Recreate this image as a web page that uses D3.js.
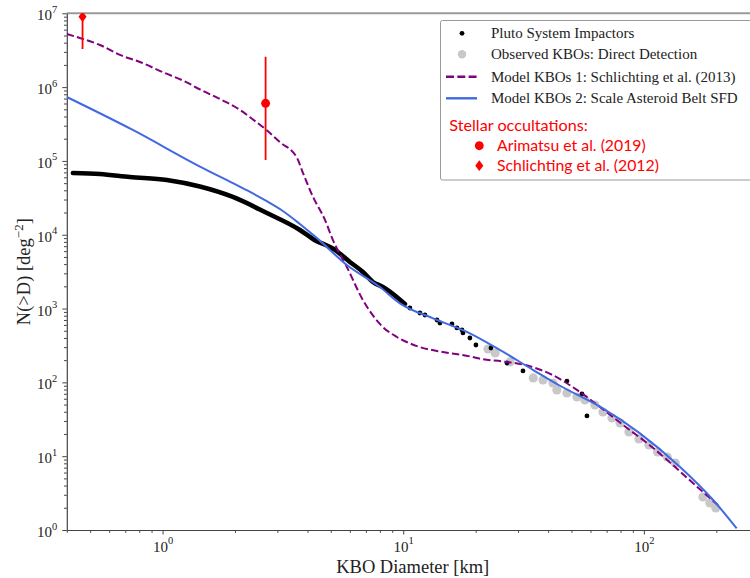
<!DOCTYPE html>
<html>
<head>
<meta charset="utf-8">
<script src="https://cdn.jsdelivr.net/npm/d3@7"></script>
<style>
  body { margin: 0; background: #fff; }
  svg { display: block; }
</style>
</head>
<body>
<div id="chart"></div>
<script>
// ---- data: [diameter km, N(>D) deg^-2] ----
const impactorCurve = [
  [0.424, 68700], [0.549, 66600], [0.731, 60600], [1.042, 55200], [1.429, 45000],
  [1.96, 32500], [2.714, 19700], [3.722, 11600], [4.215, 8770], [5.202, 6220],
  [6.003, 4280], [6.8, 3130], [7.483, 2290], [8.233, 1960], [9.506, 1390], [10.16, 1150]
];
const impactorDots = [
  [10.66, 1018], [11.73, 871], [12.31, 818], [13.81, 700], [14.21, 637], [15.94, 618],
  [16.72, 546], [17.54, 513], [17.71, 467], [18.93, 399], [20.05, 321], [23.15, 292],
  [26.98, 183], [31.45, 143], [47.9, 104], [55.3, 69.6], [58.0, 35.1]
];
const observedKBOs = [
  [22.5, 283], [24.1, 250], [27.8, 189], [34.7, 115], [38.1, 108], [41.9, 98.1],
  [43.5, 78.9], [47.9, 71.8], [52.7, 63.4], [56.9, 57.7], [62.6, 49.4], [67.6, 39.7],
  [73.7, 32.9], [79.6, 28.2], [86.7, 21.3], [95.4, 17.1], [105, 14.2], [114, 11.4],
  [125, 9.75], [135, 8.09], [176, 2.8], [188, 2.32], [199, 1.99]
];
const modelSchlichting = [
  [0.40, 5.25e6], [0.453, 4.63e6], [0.549, 3.72e6], [0.665, 2.73e6], [0.805, 2.19e6],
  [1.0, 1.6e6], [1.26, 1.16e6], [1.43, 9.3e5], [1.73, 6.9e5], [2.10, 4.9e5],
  [2.31, 3.9e5], [2.71, 2.6e5], [3.07, 1.8e5], [3.62, 1.1e5], [3.83, 6.9e4],
  [4.22, 3.25e4], [4.73, 1.59e4], [5.10, 8500], [5.83, 3660], [6.80, 1306],
  [8.23, 562], [9.42, 412], [11.4, 310], [14.6, 258], [18.9, 225], [21.5, 205],
  [26.0, 192], [33.6, 165], [41.9, 125], [52.7, 79], [65.7, 46.5], [81.9, 26.5],
  [103, 15.1], [125, 8.9], [151, 5.1], [203, 2.18]
];
const modelAsteroid = [
  [0.40, 7.35e5], [0.752, 2.63e5], [1.43, 8.4e4], [1.96, 5.0e4], [2.31, 3.8e4],
  [2.71, 2.85e4], [3.16, 2.1e4], [3.72, 1.4e4], [4.38, 9000], [5.83, 3890],
  [8.0, 1960], [9.69, 1178], [13.3, 738], [18.3, 486], [25.2, 275], [34.7, 147],
  [44.8, 90], [65.7, 46.9], [96.3, 20.4], [141, 7.2], [194, 2.55], [243, 1.05]
];
// stellar occultations: [D, N, lower, upper]
const arimatsu2019 = [2.68, 6.04e5, 1.03e5, 2.58e6];
const schlichting2012 = [0.465, 9.0e6, 3.29e6, 1.3e7];

const xMajorTicks = [1, 10, 100];
const yMajorTicks = [1, 10, 100, 1e3, 1e4, 1e5, 1e6, 1e7];
const legendSeries = [
  "Pluto System Impactors",
  "Observed KBOs: Direct Detection",
  "Model KBOs 1: Schlichting et al. (2013)",
  "Model KBOs 2: Scale Asteroid Belt SFD"
];
const legendTitle = "Stellar occultations:";
const legendOccultations = ["Arimatsu et al. (2019)", "Schlichting et al. (2012)"];

// ---- layout ----
const width = 750, height = 578;
const plot = { left: 66.8, right: 758.7, top: 13.3, bottom: 530 };
const serif = "'Liberation Serif', 'DejaVu Serif', serif";
const sans = "Lato, 'Open Sans', sans-serif";

const svg = d3.select("#chart").append("svg")
    .attr("width", width)
    .attr("height", height);

const x = d3.scaleLog().domain([0.4, 300]).range([plot.left, plot.right]);
const y = d3.scaleLog().domain([1, 1e7]).range([plot.bottom, plot.top]);

svg.append("defs").append("clipPath")
    .attr("id", "clip")
  .append("rect")
    .attr("x", plot.left)
    .attr("y", plot.top)
    .attr("width", plot.right - plot.left)
    .attr("height", plot.bottom - plot.top);

const isMajor = v => Math.abs(Math.log10(v) - Math.round(Math.log10(v))) < 1e-9;
const xMinor = x.ticks().filter(v => !isMajor(v));
const yMinor = y.ticks().filter(v => !isMajor(v));

const axisColor = "#444";

// top spine (light gray)
svg.append("line")
    .attr("x1", plot.left).attr("x2", plot.right)
    .attr("y1", plot.top).attr("y2", plot.top)
    .attr("stroke", "#9a9a9a")
    .attr("stroke-width", 2);

// minor ticks
svg.append("g")
    .attr("transform", `translate(0,${plot.bottom})`)
    .call(d3.axisBottom(x).tickValues(xMinor).tickSize(2.8).tickSizeOuter(0).tickFormat(""))
    .call(g => g.select(".domain").remove())
    .call(g => g.selectAll("line").attr("stroke", axisColor));

svg.append("g")
    .attr("transform", `translate(${plot.left},0)`)
    .call(d3.axisLeft(y).tickValues(yMinor).tickSize(2.8).tickSizeOuter(0).tickFormat(""))
    .call(g => g.select(".domain").remove())
    .call(g => g.selectAll("line").attr("stroke", axisColor));

// major axes with 10^n labels
function powerLabel(sel, supDy) {
  sel.each(function(d) {
    const t = d3.select(this).text(null);
    t.append("tspan").text("10");
    t.append("tspan").attr("dy", supDy).attr("font-size", 10.5).text(Math.round(Math.log10(d)));
  });
}

svg.append("g")
    .attr("transform", `translate(0,${plot.bottom})`)
    .call(d3.axisBottom(x).tickValues(xMajorTicks).tickSize(4.5).tickSizeOuter(0))
    .attr("font-family", serif)
    .call(g => g.select(".domain").attr("stroke", axisColor).attr("stroke-width", 1.2))
    .call(g => g.selectAll("line").attr("stroke", axisColor))
    .call(g => g.selectAll("text")
        .attr("font-family", serif)
        .attr("font-size", 15)
        .attr("fill", "#222")
        .attr("y", 21.7)
        .attr("dy", 0)
        .call(powerLabel, -8));

svg.append("g")
    .attr("transform", `translate(${plot.left},0)`)
    .call(d3.axisLeft(y).tickValues(yMajorTicks).tickSize(4.5).tickSizeOuter(0).tickPadding(5))
    .attr("font-family", serif)
    .call(g => g.select(".domain").attr("stroke", axisColor).attr("stroke-width", 1.2))
    .call(g => g.selectAll("line").attr("stroke", axisColor))
    .call(g => g.selectAll("text")
        .attr("font-family", serif)
        .attr("font-size", 15)
        .attr("fill", "#222")
        .attr("dy", 6.5)
        .call(powerLabel, -7.5));

// axis titles
svg.append("text")
    .attr("x", (plot.left + plot.right) / 2)
    .attr("y", 573)
    .attr("text-anchor", "middle")
    .attr("font-family", serif)
    .attr("font-size", 18.5)
    .attr("fill", "#222")
    .text("KBO Diameter [km]");

const yTitle = svg.append("text")
    .attr("transform", `translate(29.5,${(plot.top + plot.bottom) / 2}) rotate(-90)`)
    .attr("text-anchor", "middle")
    .attr("font-family", serif)
    .attr("font-size", 18.5)
    .attr("fill", "#222");
yTitle.append("tspan").text("N(>D) [deg");
yTitle.append("tspan").attr("dy", -7).attr("font-size", 13).text("\u22122");
yTitle.append("tspan").attr("dy", 7).text("]");

// ---- data marks ----
const g = svg.append("g").attr("clip-path", "url(#clip)");
const smooth = d3.line().x(d => x(d[0])).y(d => y(d[1])).curve(d3.curveMonotoneX);

g.selectAll("circle.kbo")
  .data(observedKBOs)
  .join("circle")
    .attr("class", "kbo")
    .attr("cx", d => x(d[0]))
    .attr("cy", d => y(d[1]))
    .attr("r", 4.6)
    .attr("fill", "#c8c8c8");

g.append("path")
    .datum(impactorCurve)
    .attr("d", smooth)
    .attr("fill", "none")
    .attr("stroke", "#000")
    .attr("stroke-width", 4.6)
    .attr("stroke-linecap", "round")
    .attr("stroke-linejoin", "round");

g.selectAll("circle.imp")
  .data(impactorDots)
  .join("circle")
    .attr("class", "imp")
    .attr("cx", d => x(d[0]))
    .attr("cy", d => y(d[1]))
    .attr("r", 2.4)
    .attr("fill", "#000");

g.append("path")
    .datum(modelSchlichting)
    .attr("d", smooth)
    .attr("fill", "none")
    .attr("stroke", "#800080")
    .attr("stroke-width", 2)
    .attr("stroke-dasharray", "7.4,3.2");

g.append("path")
    .datum(modelAsteroid)
    .attr("d", smooth)
    .attr("fill", "none")
    .attr("stroke", "#4169e1")
    .attr("stroke-width", 2);

// occultation points with error bars
const red = "#ff0000";
const dot = d3.symbol().type(d3.symbolCircle).size(62);
const diamond = d3.symbol().type(d3.symbolDiamond2).size(58);

[arimatsu2019, schlichting2012].forEach((p, i) => {
  g.append("line")
      .attr("x1", x(p[0])).attr("x2", x(p[0]))
      .attr("y1", y(p[2])).attr("y2", y(p[3]))
      .attr("stroke", red)
      .attr("stroke-width", 1.8);
  g.append("path")
      .attr("transform", `translate(${x(p[0])},${y(p[1])})` + (i === 0 ? "" : " scale(0.85,1.12)"))
      .attr("d", i === 0 ? dot : diamond)
      .attr("fill", red);
});

// ---- legend ----
const lg = svg.append("g").attr("transform", "translate(440.5,20.5)");
lg.append("rect")
    .attr("width", 330)
    .attr("height", 159.5)
    .attr("rx", 2)
    .attr("fill", "#fff")
    .attr("stroke", "#999")
    .attr("stroke-width", 1);

const rowY = [12.8, 33.8, 56.2, 77.8];
lg.append("circle").attr("cx", 21.5).attr("cy", rowY[0]).attr("r", 2.4).attr("fill", "#000");
lg.append("circle").attr("cx", 21.5).attr("cy", rowY[1]).attr("r", 4.2).attr("fill", "#c8c8c8");
lg.append("line").attr("x1", 5.5).attr("x2", 36.5).attr("y1", rowY[2]).attr("y2", rowY[2])
    .attr("stroke", "#800080").attr("stroke-width", 2.4).attr("stroke-dasharray", "8,3.3");
lg.append("line").attr("x1", 5.5).attr("x2", 36.5).attr("y1", rowY[3]).attr("y2", rowY[3])
    .attr("stroke", "#4169e1").attr("stroke-width", 2.4);

lg.selectAll("text.series")
  .data(legendSeries)
  .join("text")
    .attr("class", "series")
    .attr("x", 50.5)
    .attr("y", (d, i) => rowY[i] + 5)
    .attr("font-family", serif)
    .attr("font-size", 15)
    .attr("fill", "#222")
    .text(d => d);

lg.append("text")
    .attr("x", 8.8)
    .attr("y", 110)
    .attr("font-family", sans)
    .attr("font-size", 16.2)
    .attr("fill", red)
    .text(legendTitle);

const occY = [125.2, 145.2];
lg.append("path")
    .attr("transform", `translate(38.8,${occY[0]})`)
    .attr("d", dot)
    .attr("fill", red);
lg.append("path")
    .attr("transform", `translate(38.8,${occY[1]}) scale(0.85,1.12)`)
    .attr("d", diamond)
    .attr("fill", red);
lg.selectAll("text.occ")
  .data(legendOccultations)
  .join("text")
    .attr("class", "occ")
    .attr("x", 56.5)
    .attr("y", (d, i) => occY[i] + 5.5)
    .attr("font-family", sans)
    .attr("font-size", 15.8)
    .attr("fill", red)
    .text(d => d);
</script>
</body>
</html>
